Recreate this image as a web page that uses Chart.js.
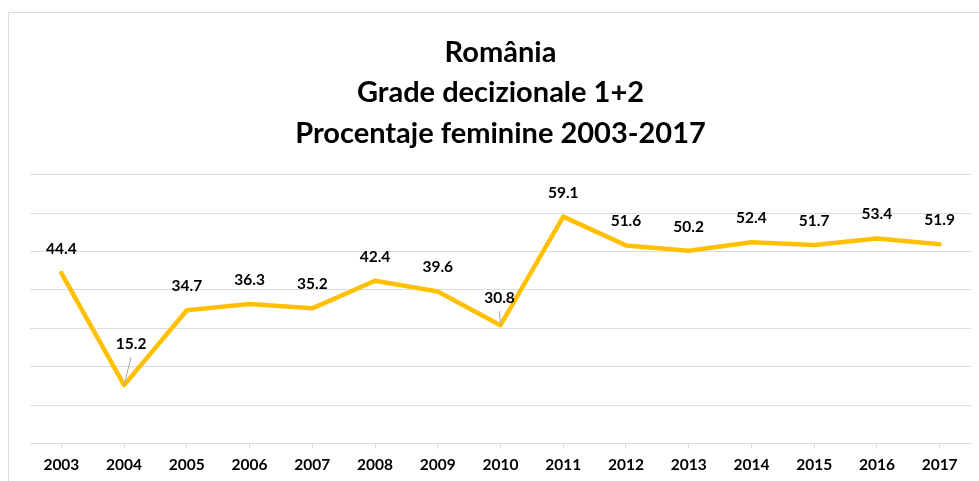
<!DOCTYPE html>
<html>
<head>
<meta charset="utf-8">
<script src="https://cdn.jsdelivr.net/npm/chart.js@4"></script>
<style>
    body { margin: 0; overflow: hidden; background: #fff; width: 979px; height: 481px; }
    #frame { position: absolute; left: 8px; top: 12px; width: 1000px; height: 600px; border: 1px solid #d9dde3; }
    #wrap { position: absolute; left: 0; top: 0; width: 1000px; height: 481px; }
</style>
</head>
<body>
<div id="frame"></div>
<div id="wrap"><canvas id="chart"></canvas></div>
<script>
// Data
const years = ["2003", "2004", "2005", "2006", "2007", "2008", "2009", "2010",
    "2011", "2012", "2013", "2014", "2015", "2016", "2017"];
const femalePercent = [44.4, 15.2, 34.7, 36.3, 35.2, 42.4, 39.6, 30.8,
    59.1, 51.6, 50.2, 52.4, 51.7, 53.4, 51.9];
const titleLines = ["România", "Grade decizionale 1+2", "Procentaje feminine 2003-2017"];

const FONT = "Lato, 'Open Sans', sans-serif";

// Labels that Excel moved away from the line get a leader line
const movedLabels = {
    1: { dx: 7, dy: -41 },
    7: { dx: -1, dy: -27 }
};

// Draw value labels above each point
const valueLabels = {
    id: 'valueLabels',
    afterDatasetsDraw(chart) {
        const ctx = chart.ctx;
        const meta = chart.getDatasetMeta(0);
        ctx.save();
        ctx.font = "bold 15.5px " + FONT;
        ctx.fillStyle = "#000";
        ctx.textAlign = "center";
        ctx.textBaseline = "middle";
        meta.data.forEach((pt, i) => {
            const moved = movedLabels[i];
            const lx = pt.x + (moved ? moved.dx : 0);
            const ly = pt.y + (moved ? moved.dy : -24);
            if (moved) {
                ctx.strokeStyle = "#a6a6a6";
                ctx.lineWidth = 1;
                ctx.beginPath();
                ctx.moveTo(lx, ly + 13);
                ctx.lineTo(pt.x, pt.y);
                ctx.stroke();
            }
            ctx.fillText(femalePercent[i].toFixed(1), lx, ly);
        });
        ctx.restore();
    }
};

new Chart(document.getElementById('chart'), {
    type: 'line',
    data: {
        labels: years,
        datasets: [{
            data: femalePercent,
            borderColor: '#FFC000',
            borderWidth: 4.5,
            pointRadius: 0,
            tension: 0,
            borderJoinStyle: 'round',
            borderCapStyle: 'round'
        }]
    },
    options: {
        responsive: true,
        maintainAspectRatio: false,
        animation: false,
        layout: { padding: { left: 30, right: 29, top: 0, bottom: 0 } },
        plugins: {
            legend: { display: false },
            tooltip: { enabled: false },
            title: {
                display: true,
                text: titleLines,
                color: '#000',
                font: { family: FONT, size: 29, weight: 'bold', lineHeight: 1.4 },
                padding: { top: 32, bottom: 21 }
            }
        },
        scales: {
            x: {
                offset: true,
                grid: { drawOnChartArea: false, drawTicks: true, tickLength: 5, color: '#d9dde3' },
                border: { color: '#d9dde3' },
                ticks: { color: '#000', padding: 7, font: { family: FONT, size: 15.5, weight: 'bold' } }
            },
            y: {
                min: 0,
                max: 70,
                ticks: { display: false, stepSize: 10 },
                grid: { color: '#d9dde3', drawTicks: false },
                border: { display: false }
            }
        }
    },
    plugins: [valueLabels]
});
</script>
</body>
</html>
